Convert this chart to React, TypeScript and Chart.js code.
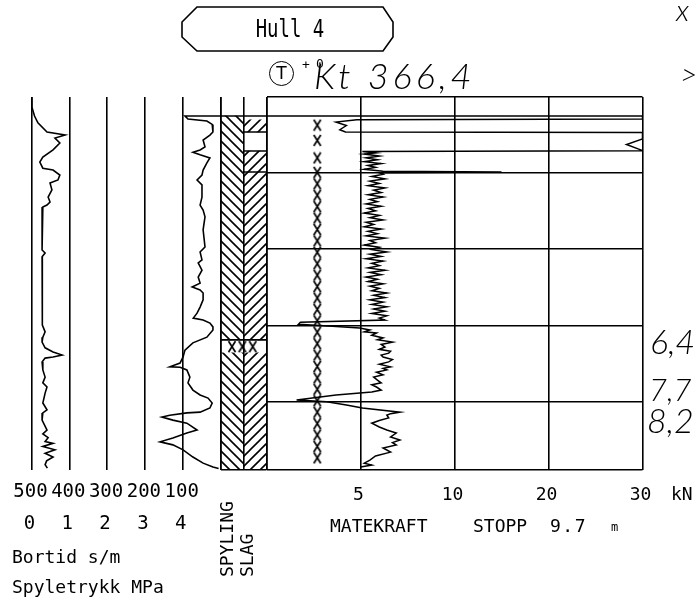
import React, { useEffect, useRef, useState } from "react";
import { Chart, registerables } from "chart.js";

Chart.register(...registerables);

// ---------------- data ----------------
const depthGrid = [0, 2, 4, 6, 8, 9.8];
const spyleGrid = [0, 1, 2, 3, 4, 5];
const bortidTicks = [500, 400, 300, 200, 100];
const spyleTicks = [0, 1, 2, 3, 4];
const kraftGrid = [0, 5, 10, 20, 30];
const kraftTicks = [5, 10, 20, 30];

// [depth m, Spyletrykk MPa]
const spyletrykk: [number, number][] = [
  [0.0, 0.0], [0.26, 0.01], [0.5, 0.08], [0.68, 0.17], [0.92, 0.41], [1.0, 0.89], [1.08, 0.62],
  [1.21, 0.75], [1.39, 0.57], [1.58, 0.3], [1.71, 0.22], [1.87, 0.3], [1.92, 0.57], [2.05, 0.75],
  [2.18, 0.7], [2.26, 0.49], [2.44, 0.54], [2.63, 0.44], [2.76, 0.49], [2.84, 0.41], [2.89, 0.3],
  [3.31, 0.28], [4.02, 0.28], [4.1, 0.36], [4.2, 0.28], [5.07, 0.28], [5.78, 0.28], [5.99, 0.3],
  [6.17, 0.36], [6.31, 0.3], [6.44, 0.28], [6.59, 0.36], [6.7, 0.57], [6.78, 0.81], [6.83, 0.57],
  [6.86, 0.36], [6.96, 0.28], [7.17, 0.3], [7.36, 0.36], [7.51, 0.3], [7.62, 0.41], [7.78, 0.36],
  [8.04, 0.3], [8.22, 0.41], [8.3, 0.3], [8.49, 0.28], [8.75, 0.41], [8.85, 0.3], [8.95, 0.44],
  [9.05, 0.36], [9.1, 0.57], [9.18, 0.3], [9.27, 0.62], [9.36, 0.36], [9.46, 0.57], [9.56, 0.4],
  [9.66, 0.36], [9.75, 0.42],
];

// [depth m, Bortid s/m]
const bortid: [number, number][] = [
  [0.5, 0], [0.5, 94], [0.58, 86], [0.63, 36], [0.72, 22], [0.92, 20], [1.0, 28], [1.13, 46],
  [1.31, 41], [1.39, 54], [1.45, 73], [1.52, 54], [1.6, 28], [1.73, 36], [1.92, 46], [2.05, 49],
  [2.18, 62], [2.31, 49], [2.63, 49], [2.84, 54], [2.97, 46], [3.15, 41], [3.49, 46], [3.94, 41],
  [4.07, 54], [4.28, 49], [4.36, 59], [4.55, 49], [4.73, 59], [4.89, 54], [4.99, 75], [5.07, 54],
  [5.15, 46], [5.33, 46], [5.52, 54], [5.68, 62], [5.81, 72], [5.86, 46], [5.94, 28], [6.04, 20],
  [6.12, 20], [6.31, 36], [6.46, 73], [6.65, 94], [6.83, 99], [6.99, 107], [7.09, 134], [7.1, 107],
  [7.17, 89], [7.36, 81], [7.51, 86], [7.7, 73], [7.83, 54], [7.91, 33], [8.04, 22], [8.17, 28],
  [8.28, 54], [8.3, 89], [8.36, 134], [8.41, 155], [8.49, 126], [8.57, 89], [8.75, 62], [8.83, 89],
  [8.96, 126], [9.06, 160], [9.14, 126], [9.27, 99], [9.46, 73], [9.62, 46], [9.72, 20], [9.76, 5],
];

// [depth m, Matekraft kN]
const matekraft: [number, number][] = [
  [0.5, 0], [0.5, 30], [0.58, 30], [0.6, 4.8], [0.66, 3.7], [0.75, 4.25], [0.86, 3.9], [0.92, 4.2],
  [0.93, 30], [1.1, 30], [1.25, 28.3], [1.37, 29.6], [1.41, 30], [1.43, 5.1],
  [1.47, 5.8], [1.5, 5.2], [1.55, 6.0], [1.6, 5.3], [1.65, 5.9], [1.7, 5.2], [1.75, 6.1], [1.8, 5.4],
  [1.85, 5.8], [1.9, 5.2], [1.95, 6.2], [1.97, 15], [1.99, 6.0],
  [2.03, 6.2], [2.09, 5.6], [2.15, 6.3], [2.21, 5.5], [2.27, 6.0], [2.33, 5.4], [2.39, 6.3], [2.45, 5.7],
  [2.51, 6.1], [2.57, 5.4], [2.63, 6.2], [2.69, 5.5], [2.75, 5.9], [2.81, 5.3], [2.87, 6.1], [2.93, 5.4],
  [2.99, 5.8], [3.05, 5.2], [3.11, 6.0], [3.17, 5.5], [3.23, 6.2], [3.29, 5.3], [3.35, 5.7], [3.41, 5.2],
  [3.47, 6.1], [3.53, 5.4], [3.59, 5.9], [3.65, 5.3], [3.71, 6.3], [3.77, 5.5], [3.83, 5.8], [3.89, 5.2],
  [3.95, 6.0], [4.01, 5.6], [4.07, 6.4], [4.13, 5.5], [4.19, 6.1], [4.25, 5.3], [4.31, 6.2], [4.37, 5.6],
  [4.43, 6.0], [4.49, 5.4], [4.55, 6.3], [4.61, 5.5], [4.67, 6.1], [4.73, 5.3], [4.79, 5.9], [4.85, 5.4],
  [4.91, 6.2], [4.97, 5.5], [5.03, 6.0], [5.09, 5.6], [5.15, 6.4], [5.21, 5.7], [5.27, 6.3], [5.33, 5.5],
  [5.39, 6.2], [5.45, 5.6], [5.51, 6.4], [5.57, 5.7], [5.63, 6.3], [5.69, 5.6], [5.75, 6.4], [5.81, 6.0],
  [5.86, 6.3], [5.92, 1.8], [5.97, 1.7], [6.02, 3.5],
  [6.07, 4.95], [6.12, 5.5], [6.17, 5.2], [6.2, 5.85], [6.26, 5.6], [6.33, 6.2], [6.38, 5.9], [6.44, 6.7],
  [6.5, 6.1], [6.57, 6.3], [6.63, 6.0], [6.68, 6.6], [6.73, 6.5], [6.78, 6.1], [6.83, 6.2], [6.9, 6.7],
  [6.96, 6.5], [7.02, 6.0], [7.09, 6.6], [7.13, 6.2], [7.17, 6.4], [7.23, 5.85], [7.3, 6.2], [7.36, 5.7],
  [7.44, 5.9], [7.51, 6.1], [7.56, 5.6], [7.62, 5.85], [7.7, 6.1], [7.75, 5.6], [7.83, 3.7], [7.96, 1.6],
  [8.01, 3.2], [8.09, 4.25], [8.17, 5.1], [8.28, 7.1], [8.32, 6.6], [8.36, 6.4], [8.43, 6.5], [8.5, 6.0],
  [8.57, 5.6], [8.67, 6.0], [8.75, 6.4], [8.83, 6.9], [8.93, 6.6], [9.01, 7.1], [9.08, 6.7], [9.14, 6.9],
  [9.22, 6.2], [9.33, 6.6], [9.43, 5.8], [9.54, 5.5], [9.62, 5.2], [9.67, 5.6], [9.72, 5.0],
];

// depths of the X marks beside the Matekraft curve
const xMarkDepths = [
  0.74, 1.14, 1.6, 1.98, 2.28, 2.58, 2.88, 3.18, 3.48, 3.78, 4.08, 4.38, 4.68, 4.98, 5.28,
  5.58, 5.88, 6.18, 6.48, 6.78, 7.08, 7.38, 7.68, 7.98, 8.28, 8.58, 8.88, 9.18, 9.48,
];

// SPYLING / SLAG columns (hatched intervals, m)
const spylingLayers: [number, number][] = [[0.5, 6.38], [6.72, 9.8]];
const slagLayers: [number, number][] = [[0.6, 0.92], [1.42, 6.38], [6.72, 9.8]];
const layerLines = [0.5, 6.38];
const slagLines = [0.92, 1.42, 1.97];
const crushDepth = 6.56;
const crushMarks = [0.5, 0.95, 1.4];

const W = 697;
const H = 604;
const MARK_FORCE = 2.7;

function forceToAxis(k: number) {
  return k <= 10 ? k / 5 : 2 + (k - 10) / 10;
}

function makeX(): HTMLCanvasElement {
  const c = document.createElement("canvas");
  c.width = 10;
  c.height = 13;
  const g = c.getContext("2d")!;
  g.strokeStyle = "#000";
  g.lineWidth = 1.7;
  g.beginPath();
  g.moveTo(1.5, 1);
  g.lineTo(8.5, 12);
  g.moveTo(8.5, 1);
  g.lineTo(1.5, 12);
  g.stroke();
  return c;
}

function makeHatch(target: CanvasRenderingContext2D, back: boolean) {
  const s = 10;
  const c = document.createElement("canvas");
  c.width = s;
  c.height = s;
  const g = c.getContext("2d")!;
  g.strokeStyle = "#000";
  g.lineWidth = 1.6;
  g.beginPath();
  if (back) {
    g.moveTo(0, 0); g.lineTo(s, s);
    g.moveTo(-2, s - 2); g.lineTo(2, s + 2);
    g.moveTo(s - 2, -2); g.lineTo(s + 2, 2);
  } else {
    g.moveTo(0, s); g.lineTo(s, 0);
    g.moveTo(-2, 2); g.lineTo(2, -2);
    g.moveTo(s - 2, s + 2); g.lineTo(s + 2, s - 2);
  }
  g.stroke();
  return target.createPattern(c, "repeat");
}

const gridStyle = { color: "#000", lineWidth: 1.6, drawTicks: false };

function base(pad: { left: number; top: number; right: number; bottom: number }) {
  return {
    responsive: false,
    animation: false as const,
    devicePixelRatio: 1,
    events: [] as any[],
    layout: { padding: pad },
    plugins: { legend: { display: false }, tooltip: { enabled: false } },
  };
}

type Lab = { t: string; x: number };

const mono = '"DejaVu Sans Mono", "Liberation Mono", monospace';
const hand = 'Lato, "DejaVu Sans", sans-serif';

export default function App() {
  const leftRef = useRef<HTMLCanvasElement>(null);
  const hatchRef = useRef<HTMLCanvasElement>(null);
  const mainRef = useRef<HTMLCanvasElement>(null);
  const [labs, setLabs] = useState<{ b: Lab[]; s: Lab[]; k: Lab[] }>({ b: [], s: [], k: [] });

  useEffect(() => {
    const xImg = makeX();
    const line = { borderColor: "#000", borderWidth: 1.6, pointRadius: 0, tension: 0, fill: false };

    // ---- left panel: Spyletrykk + Bortid ----
    const left = new Chart(leftRef.current!, {
      type: "line",
      data: {
        datasets: [
          { ...line, data: spyletrykk.map(([d, p]) => ({ x: p, y: d })), xAxisID: "x", yAxisID: "y" },
          { ...line, data: bortid.map(([d, b]) => ({ x: b, y: d })), xAxisID: "xb", yAxisID: "y" },
        ],
      },
      options: {
        ...base({ left: 31.5, top: 97, right: W - 220.5, bottom: H - 470 }),
        scales: {
          x: {
            type: "linear", min: 0, max: 5, display: true,
            ticks: { display: false }, grid: gridStyle, border: { display: false },
            afterBuildTicks: (s: any) => { s.ticks = spyleGrid.map((v) => ({ value: v })); },
          },
          xb: { type: "linear", min: 0, max: 500, reverse: true, display: false },
          y: { type: "linear", min: 0, max: 9.8, reverse: true, display: false },
        },
      } as any,
    });

    // ---- SPYLING / SLAG columns ----
    const hctx = hatchRef.current!.getContext("2d")!;
    const back = makeHatch(hctx, true);
    const fwd = makeHatch(hctx, false);
    const hatch = new Chart(hatchRef.current!, {
      type: "bar",
      data: {
        datasets: [
          ...spylingLayers.map(([a, b]) => ({
            type: "bar", data: [{ x: 0.5, y: [a, b] }], backgroundColor: back, borderWidth: 0,
          })),
          ...slagLayers.map(([a, b]) => ({
            type: "bar", data: [{ x: 1.5, y: [a, b] }], backgroundColor: fwd, borderWidth: 0,
          })),
          ...layerLines.map((d) => ({ type: "line", ...line, data: [{ x: 0, y: d }, { x: 2, y: d }] })),
          ...slagLines.map((d) => ({ type: "line", ...line, data: [{ x: 1, y: d }, { x: 2, y: d }] })),
          {
            type: "scatter", data: crushMarks.map((x) => ({ x, y: crushDepth })),
            pointStyle: xImg, pointRadius: 5, showLine: false,
          },
        ] as any,
      },
      options: {
        ...base({ left: 220.5, top: 97, right: W - 266.5, bottom: H - 470 }),
        datasets: { bar: { grouped: false, barPercentage: 1, categoryPercentage: 1 } },
        scales: {
          x: {
            type: "linear", min: 0, max: 2, offset: false, display: true,
            ticks: { display: false }, grid: { ...gridStyle, offset: false }, border: { display: false },
            afterBuildTicks: (s: any) => { s.ticks = [0, 1, 2].map((v) => ({ value: v })); },
          },
          y: {
            type: "linear", min: 0, max: 9.8, reverse: true, display: true,
            ticks: { display: false }, grid: gridStyle, border: { display: false },
            afterBuildTicks: (s: any) => { s.ticks = [{ value: 9.8 }]; },
          },
        },
      } as any,
    });

    // ---- main panel: Matekraft ----
    const main = new Chart(mainRef.current!, {
      type: "line",
      data: {
        datasets: [
          { ...line, borderWidth: 1.5, data: matekraft.map(([d, k]) => ({ x: forceToAxis(k), y: d })) },
          {
            type: "scatter", data: xMarkDepths.map((d) => ({ x: forceToAxis(MARK_FORCE), y: d })),
            pointStyle: xImg, pointRadius: 5, showLine: false,
          },
        ] as any,
      },
      options: {
        ...base({ left: 266.5, top: 97, right: W - 642.5, bottom: H - 470 }),
        scales: {
          x: {
            type: "linear", min: 0, max: 4, display: true,
            ticks: { display: false }, grid: gridStyle, border: { display: false },
            afterBuildTicks: (s: any) => { s.ticks = kraftGrid.map((k) => ({ value: forceToAxis(k) })); },
          },
          y: {
            type: "linear", min: 0, max: 9.8, reverse: true, display: true,
            ticks: { display: false }, grid: gridStyle, border: { display: false },
            afterBuildTicks: (s: any) => { s.ticks = depthGrid.map((v) => ({ value: v })); },
          },
        },
      } as any,
    });

    setLabs({
      b: bortidTicks.map((v) => ({ t: String(v), x: (left.scales as any).xb.getPixelForValue(v) })),
      s: spyleTicks.map((v) => ({ t: String(v), x: (left.scales as any).x.getPixelForValue(v) })),
      k: kraftTicks.map((v) => ({ t: String(v), x: (main.scales as any).x.getPixelForValue(forceToAxis(v)) })),
    });

    return () => {
      left.destroy();
      hatch.destroy();
      main.destroy();
    };
  }, []);

  const abs = (l: number, t: number, extra: React.CSSProperties = {}): React.CSSProperties => ({
    position: "absolute", left: l, top: t, whiteSpace: "nowrap", margin: 0, ...extra,
  });
  const m18: React.CSSProperties = { fontFamily: mono, fontSize: 18, lineHeight: "18px" };
  const m19: React.CSSProperties = { fontFamily: mono, fontSize: 19, lineHeight: "19px" };
  const hw: React.CSSProperties = { fontFamily: hand, fontStyle: "italic", fontWeight: 300 };

  return (
    <div style={{ position: "absolute", left: 0, top: 0, width: W, height: H, background: "#fff", overflow: "hidden", color: "#000" }}>
      <canvas ref={leftRef} width={W} height={H} style={{ position: "absolute", left: 0, top: 0 }} />
      <canvas ref={hatchRef} width={W} height={H} style={{ position: "absolute", left: 0, top: 0 }} />
      <canvas ref={mainRef} width={W} height={H} style={{ position: "absolute", left: 0, top: 0 }} />

      <svg width={W} height={60} style={{ position: "absolute", left: 0, top: 0 }}>
        <path d="M197,7 L383,7 L393,22 L393,37 L383,51 L197,51 L182,37 L182,22 Z" fill="none" stroke="#000" strokeWidth={1.6} />
      </svg>
      <div style={abs(290, 19, { ...m19, transform: "translateX(-50%) scaleY(1.3)" })}>Hull 4</div>

      <div style={abs(269, 61, { width: 23, height: 23, border: "1.5px solid #000", borderRadius: "50%", fontFamily: '"DejaVu Sans", sans-serif', fontSize: 17, lineHeight: "23px", textAlign: "center" })}>T</div>
      <div style={abs(302, 58, { fontFamily: mono, fontSize: 13, lineHeight: "13px" })}>+</div>
      <div style={abs(316, 57, { fontFamily: mono, fontSize: 13, lineHeight: "13px" })}>0</div>
      <div style={abs(314, 57, { ...hw, fontSize: 36, lineHeight: "36px", letterSpacing: 4 })}>Kt 366,4</div>
      <div style={abs(676, -6, { ...hw, fontSize: 30, lineHeight: "30px" })}>x</div>
      <div style={abs(680, 58, { ...hw, fontSize: 30, lineHeight: "30px" })}>&gt;</div>

      <div style={abs(650, 324, { ...hw, fontSize: 34, lineHeight: "34px" })}>6,4</div>
      <div style={abs(649, 374, { ...hw, fontSize: 31, lineHeight: "31px" })}>7,7</div>
      <div style={abs(647, 403, { ...hw, fontSize: 34, lineHeight: "34px" })}>8,2</div>

      {labs.b.map((l) => (
        <div key={"b" + l.t} style={abs(l.x - 1, 481, { ...m19, transform: "translateX(-50%)" })}>{l.t}</div>
      ))}
      {labs.s.map((l) => (
        <div key={"s" + l.t} style={abs(l.x - 2, 513, { ...m19, transform: "translateX(-50%)" })}>{l.t}</div>
      ))}
      {labs.k.map((l) => (
        <div key={"k" + l.t} style={abs(l.x - 2, 485, { ...m18, transform: "translateX(-50%)" })}>{l.t}</div>
      ))}
      <div style={abs(671, 485, m18)}>kN</div>

      <div style={abs(12, 548, m18)}>Bortid s/m</div>
      <div style={abs(12, 578, m18)}>Spyletrykk MPa</div>

      <div style={abs(218, 577, { ...m18, transform: "rotate(-90deg)", transformOrigin: "left top" })}>SPYLING</div>
      <div style={abs(238, 577, { ...m18, transform: "rotate(-90deg)", transformOrigin: "left top" })}>SLAG</div>

      <div style={abs(330, 517, m18)}>MATEKRAFT</div>
      <div style={abs(473, 517, m18)}>STOPP</div>
      <div style={abs(550, 517, { ...m18, letterSpacing: 1.5 })}>9.7</div>
      <div style={abs(611, 521, { fontFamily: mono, fontSize: 12, lineHeight: "12px" })}>m</div>
    </div>
  );
}
